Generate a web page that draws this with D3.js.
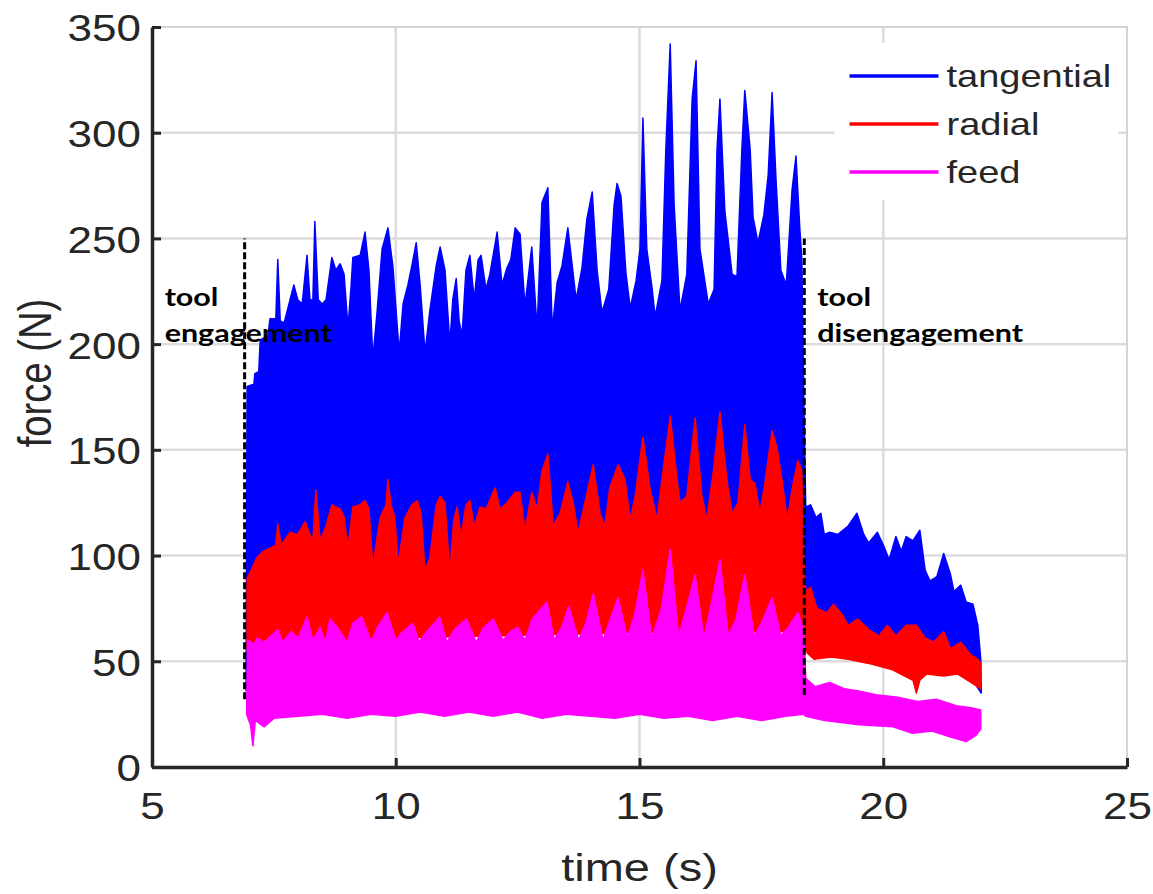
<!DOCTYPE html>
<html>
<head>
<meta charset="utf-8">
<script src="https://cdn.jsdelivr.net/npm/d3@7"></script>
<style>
  body { margin: 0; background: #fff; }
  svg { display: block; }
</style>
</head>
<body>
<div id="chart"></div>
<script>
var tangentialUpper = [
  [6.93,36],[6.95,180],[7.09,181],[7.11,186],[7.19,187],[7.22,202],[7.38,204],[7.42,212],[7.54,212],[7.58,240],
  [7.63,211],[7.71,210],[7.81,219],[7.91,228],[7.99,221],[8.08,219],[8.18,242],[8.24,221],[8.30,221],[8.34,258],
  [8.41,221],[8.49,219],[8.57,221],[8.69,241],[8.77,235],[8.86,238],[8.94,233],[9.02,208],[9.08,226],[9.12,241],
  [9.27,242],[9.37,253],[9.45,235],[9.53,193],[9.62,216],[9.72,245],[9.84,255],[9.94,237],[10.07,196],[10.15,219],
  [10.25,228],[10.33,237],[10.42,248],[10.50,228],[10.60,196],[10.70,216],[10.83,237],[10.91,246],[11.01,235],[11.11,200],
  [11.17,221],[11.24,231],[11.30,211],[11.36,204],[11.44,235],[11.52,242],[11.61,221],[11.69,240],[11.75,242],[11.85,226],
  [11.93,233],[12.02,245],[12.08,253],[12.18,228],[12.28,236],[12.36,240],[12.45,255],[12.55,252],[12.65,218],[12.79,246],
  [12.90,207],[13.00,267],[13.12,274],[13.21,207],[13.31,229],[13.41,237],[13.53,255],[13.62,237],[13.70,221],[13.82,236],
  [13.92,259],[14.03,272],[14.13,235],[14.23,215],[14.37,226],[14.48,266],[14.54,276],[14.62,270],[14.72,234],[14.81,217],
  [14.93,230],[15.01,245],[15.07,307],[15.15,245],[15.26,226],[15.32,213],[15.46,230],[15.54,292],[15.63,342],[15.71,266],
  [15.83,216],[15.97,233],[16.08,316],[16.16,334],[16.24,245],[16.41,219],[16.53,226],[16.59,292],[16.65,316],[16.75,263],
  [16.90,233],[17.00,232],[17.10,292],[17.16,320],[17.27,292],[17.33,260],[17.43,248],[17.55,261],[17.64,280],[17.72,319],
  [17.80,278],[17.90,235],[18.01,228],[18.13,273],[18.21,289],[18.29,254],[18.33,240],[18.37,174],
  [18.41,123],[18.51,124],[18.62,118],[18.72,120],[18.79,110],[18.90,111],[19.07,110],[19.28,114],[19.46,120],[19.60,110],
  [19.70,106],[19.88,111],[20.02,104],[20.12,98],[20.26,109],[20.37,102],[20.47,109],[20.61,107],[20.75,112],[20.86,93],
  [20.96,88],[21.10,90],[21.24,101],[21.38,91],[21.45,83],[21.59,86],[21.70,78],[21.84,77],[21.94,67],[22.00,51],[22.01,35]
];
var tangentialLower = [
  [6.95,85],[8,86],[10,88],[12,92],[14,95],[16,95],[18.37,95],[18.41,70],[19.0,64],[19.7,58],
  [20.3,56],[20.9,52],[21.4,48],[21.8,46],[21.92,38],[22.01,35]
];

var radialUpper = [
  [6.95,89],[7.15,99],[7.28,102],[7.46,104],[7.54,105],[7.58,115],[7.65,105],[7.83,111],[7.99,110],[8.14,116],
  [8.24,110],[8.30,107],[8.36,131],[8.45,107],[8.57,114],[8.69,124],[8.86,122],[8.94,118],[9.02,104],[9.12,123],
  [9.27,124],[9.37,126],[9.45,122],[9.53,95],[9.68,118],[9.80,124],[9.84,136],[9.90,124],[9.98,118],[10.05,96],
  [10.19,118],[10.33,124],[10.44,126],[10.52,120],[10.60,93],[10.70,99],[10.83,124],[10.91,128],[11.01,125],[11.11,92],
  [11.19,117],[11.26,123],[11.34,109],[11.44,124],[11.52,126],[11.61,114],[11.73,123],[11.85,122],[12.04,132],[12.14,122],
  [12.28,125],[12.45,130],[12.55,130],[12.65,112],[12.79,130],[12.90,122],[13.00,140],[13.12,148],[13.23,114],[13.37,120],
  [13.53,135],[13.64,125],[13.74,111],[13.88,125],[14.05,143],[14.19,120],[14.29,114],[14.39,132],[14.56,143],[14.70,136],
  [14.81,117],[14.91,128],[15.07,156],[15.22,131],[15.36,117],[15.46,136],[15.63,166],[15.77,136],[15.83,125],[15.97,128],
  [16.14,165],[16.28,128],[16.38,117],[16.51,139],[16.65,168],[16.79,136],[16.90,120],[17.02,125],[17.16,162],[17.27,136],
  [17.37,134],[17.47,120],[17.57,134],[17.72,159],[17.82,151],[17.92,136],[18.03,117],[18.15,134],[18.25,145],[18.33,140],
  [18.37,98],
  [18.41,83],[18.51,85],[18.64,75],[18.84,73],[18.98,77],[19.16,72],[19.28,67],[19.48,70],[19.70,65],[19.91,62],
  [20.08,67],[20.26,62],[20.47,67],[20.68,67],[20.86,61],[21.03,59],[21.24,64],[21.38,56],[21.59,59],[21.80,53],
  [21.94,51],[22.00,49]
];
var radialLower = [
  [6.95,55],[7.5,58],[8.5,60],[10,61],[12,62],[14,63],[16,64],[18,64],[18.37,60],[18.44,54],
  [18.58,51],[18.93,52],[19.28,51],[19.70,49],[20.19,46],[20.61,41],[20.68,35],[20.75,41],[20.89,44],[21.24,43],
  [21.52,44],[21.80,40],[22.00,37]
];

var feedUpper = [
  [6.94,25],[6.96,60],[7.10,58],[7.15,61],[7.30,59],[7.58,65],[7.68,59],[7.85,64],[8.00,61],[8.18,71],
  [8.30,60],[8.45,66],[8.56,59],[8.65,70],[8.80,66],[9.00,59],[9.12,68],[9.30,71],[9.50,59],[9.62,66],
  [9.82,73],[10.00,60],[10.10,63],[10.35,68],[10.48,59],[10.60,63],[10.90,71],[11.05,59],[11.20,65],[11.45,70],
  [11.65,59],[11.80,66],[12.00,70],[12.20,60],[12.35,64],[12.50,66],[12.65,60],[12.80,70],[13.10,78],[13.25,60],
  [13.40,66],[13.55,76],[13.75,60],[13.90,68],[14.05,82],[14.25,60],[14.40,70],[14.56,80],[14.75,61],[14.90,72],
  [15.07,93],[15.25,61],[15.45,75],[15.63,103],[15.80,62],[15.95,74],[16.14,91],[16.32,61],[16.48,78],[16.65,98],
  [16.82,62],[16.98,70],[17.16,91],[17.35,62],[17.50,68],[17.72,80],[17.90,62],[18.05,66],[18.25,73],[18.37,65],
  [18.41,42],[18.60,38],[18.90,40],[19.20,37],[19.50,36],[19.90,34],[20.30,33],[20.70,31],[21.10,32],[21.50,29],
  [21.80,28],[22.00,27]
];
var feedLower = [
  [6.94,25],[7.02,20],[7.07,10],[7.12,22],[7.30,19],[7.50,23],[8.00,24],[8.50,25],[9.00,23],[9.50,25],
  [10.00,24],[10.50,26],[11.00,24],[11.50,26],[12.00,24],[12.50,26],[13.00,23],[13.50,25],[14.00,24],[14.50,23],
  [15.00,25],[15.50,23],[16.00,24],[16.50,22],[17.00,24],[17.50,22],[18.00,24],[18.37,25],[18.41,24],[18.80,22],
  [19.50,20],[20.20,19],[20.60,16],[21.00,17],[21.40,14],[21.70,12],[21.90,15],[22.00,18]
];

var seriesNames = ["tangential", "radial", "feed"];
var seriesColors = ["#0000ff", "#ff0000", "#ff00ff"];
var xTicks = [5, 10, 15, 20, 25];
var yTicks = [0, 50, 100, 150, 200, 250, 300, 350];
// dashed markers: [time, bottom force, top force]
var markers = [[6.9, 32, 250], [18.38, 34, 250]];
var markerLabels = [["tool", "engagement"], ["tool", "disengagement"]];

var W = 1153, H = 894;
var margin = {top: 27, right: 26, bottom: 127, left: 152};
var width = W - margin.left - margin.right,
    height = H - margin.top - margin.bottom;
var squash = 0.83;   // the original figure is squeezed vertically

var x = d3.scaleLinear().domain([5, 25]).range([0, width]);
var y = d3.scaleLinear().domain([0, 350]).range([height, 0]);

var svg = d3.select("#chart").append("svg")
    .attr("width", W)
    .attr("height", H);

var g = svg.append("g")
    .attr("transform", "translate(" + margin.left + "," + margin.top + ")");

// grid
g.append("g").selectAll("line")
  .data(yTicks.slice(1, -1))
  .enter().append("line")
    .attr("x1", 0).attr("x2", width)
    .attr("y1", function(d) { return y(d); })
    .attr("y2", function(d) { return y(d); })
    .attr("stroke", "#dcdcdc").attr("stroke-width", 2.5);

g.append("g").selectAll("line")
  .data(xTicks.slice(1, -1))
  .enter().append("line")
    .attr("y1", 0).attr("y2", height)
    .attr("x1", function(d) { return x(d); })
    .attr("x2", function(d) { return x(d); })
    .attr("stroke", "#dcdcdc").attr("stroke-width", 2.5);

// top and right box edges (light)
g.append("path")
    .attr("d", "M0,0H" + width + "V" + height)
    .attr("fill", "none")
    .attr("stroke", "#d4d4d4")
    .attr("stroke-width", 2);

// envelopes: upper edge forward, lower edge back
var line = d3.line()
    .x(function(d) { return x(d[0]); })
    .y(function(d) { return y(d[1]); });

var bands = [
  [tangentialUpper, tangentialLower],
  [radialUpper, radialLower],
  [feedUpper, feedLower]
];

g.append("g").selectAll("path")
  .data(bands)
  .enter().append("path")
    .attr("d", function(d) { return line(d[0].concat(d[1].slice().reverse())) + "Z"; })
    .attr("fill", function(d, i) { return seriesColors[i]; })
    .attr("stroke", function(d, i) { return seriesColors[i]; })
    .attr("stroke-width", 1.5)
    .attr("stroke-linejoin", "round");

// engagement markers
g.append("g").selectAll("line")
  .data(markers)
  .enter().append("line")
    .attr("x1", function(d) { return x(d[0]); })
    .attr("x2", function(d) { return x(d[0]); })
    .attr("y1", function(d) { return y(d[1]); })
    .attr("y2", function(d) { return y(d[2]); })
    .attr("stroke", "#000")
    .attr("stroke-width", 3)
    .attr("stroke-dasharray", "7,3");

var notes = g.append("g").selectAll("g")
  .data(markers)
  .enter().append("g")
    .attr("transform", function(d) { return "translate(" + (x(d[0]) + 13) + ",0)"; });

notes.each(function(d, i) {
  var t = d3.select(this);
  markerLabels[i].forEach(function(s, k) {
    t.append("text")
      .attr("transform", "translate(" + (i == 0 ? -93 : 0) + "," + (y(d[2]) + 68 + k * 36) + ") scale(1," + squash + ")")
      .attr("font-family", "Lato, 'Open Sans', sans-serif")
      .attr("font-weight", 700)
      .attr("font-size", 30.5)
      .attr("fill", "#000")
      .text(s);
  });
});

// axes
var tickFont = "'Liberation Sans', Arial, Helvetica, sans-serif";

var yAxis = g.append("g")
    .call(d3.axisLeft(y).tickValues(yTicks).tickSize(-9).tickSizeOuter(0).tickPadding(11));
var xAxis = g.append("g")
    .attr("transform", "translate(0," + height + ")")
    .call(d3.axisBottom(x).tickValues(xTicks).tickSize(-9).tickSizeOuter(0));

[xAxis, yAxis].forEach(function(a) {
  a.select(".domain").attr("stroke", "#262626").attr("stroke-width", 3.5);
  a.selectAll(".tick line").attr("stroke", "#262626").attr("stroke-width", 3);
  a.selectAll("text")
    .attr("font-family", tickFont)
    .attr("font-size", 44)
    .attr("fill", "#262626");
});
yAxis.selectAll(".tick text")
    .attr("dy", "0.38em")
    .attr("transform", "scale(1," + squash + ")");
xAxis.selectAll(".tick text")
    .attr("y", 52 / squash)
    .attr("dy", 0)
    .attr("transform", "scale(1," + squash + ")");

// axis labels
g.append("text")
    .attr("transform", "translate(" + (width / 2) + "," + (height + 114) + ") scale(1," + squash + ")")
    .attr("text-anchor", "middle")
    .attr("font-family", tickFont)
    .attr("font-size", 47)
    .attr("fill", "#262626")
    .text("time (s)");

g.append("text")
    .attr("transform", "translate(" + (-101) + "," + (height / 2 - 24) + ") scale(1," + squash + ") rotate(-90)")
    .attr("text-anchor", "middle")
    .attr("font-family", tickFont)
    .attr("font-size", 46)
    .attr("fill", "#262626")
    .text("force (N)");

// legend
var legend = g.append("g")
    .attr("transform", "translate(" + x(19.0) + "," + 16 + ")");

legend.append("rect")
    .attr("x", 0).attr("y", 0)
    .attr("width", 284).attr("height", 157)
    .attr("fill", "#fff");

var item = legend.selectAll(".item")
  .data(seriesNames)
  .enter().append("g")
    .attr("class", "item")
    .attr("transform", function(d, i) { return "translate(0," + (33 + i * 48) + ")"; });

item.append("line")
    .attr("x1", 15).attr("x2", 104)
    .attr("stroke", function(d, i) { return seriesColors[i]; })
    .attr("stroke-width", 3.5);

item.append("text")
    .attr("transform", "translate(112,11) scale(1," + squash + ")")
    .attr("font-family", tickFont)
    .attr("font-size", 38)
    .attr("fill", "#262626")
    .text(function(d) { return d; });
</script>
</body>
</html>
